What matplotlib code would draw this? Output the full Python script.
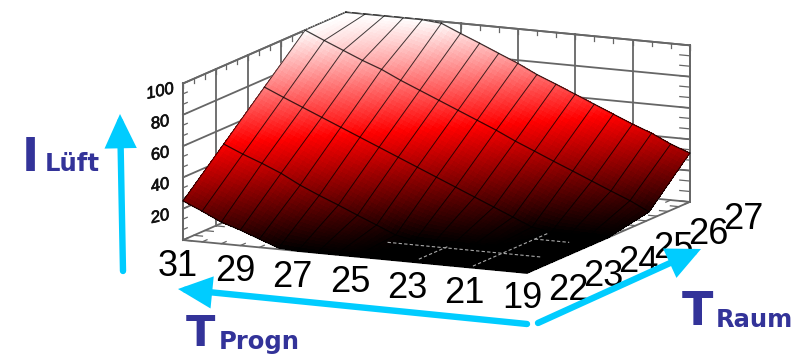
import matplotlib
matplotlib.use('Agg')
import matplotlib.pyplot as plt
import matplotlib.patheffects as pe
import numpy as np
from matplotlib.colors import LinearSegmentedColormap
from matplotlib.patches import FancyArrowPatch
from mpl_toolkits.mplot3d import proj3d

W, H = 807, 357

# axes values
t_progn = np.linspace(31, 19, 19)
t_raum = [22, 23.25, 24.5, 25.75, 27]
progn_ticks = [31, 29, 27, 25, 23, 21, 19]
raum_ticks = [22, 23, 24, 25, 26, 27]
z_ticks = [20, 40, 60, 80, 100]

# I_Lueft per T_Raum row (31 -> 19)
z_22 = [25, 19.6, 13.8, 9.9, 5.3, 0.8, 0, 0, 0, 0, 0, 0, 0, 0, 0, 0, 0, 0, 0]
z_2325 = [50, 44.7, 40, 34.8, 28.4, 23, 18, 12.7, 7.6, 2.4, 0, 0, 0, 0, 0, 0, 0, 0, 0]
z_245 = [75, 69.6, 64.4, 59.2, 54, 48.8, 43.6, 38.4, 33.2, 28, 22.8, 17.6, 12.4, 7.2, 2, 0, 0, 0, 0]
z_2575 = [100, 94.6, 89.4, 84.2, 79.6, 73.8, 68.6, 63.4, 58.2, 53, 47.8, 42, 36.8, 31.5, 26.4, 21.2, 16, 11, 5]
z_27 = [100, 100, 100, 100, 100, 98.9, 93.6, 88.5, 83.2, 78, 72, 67, 61.8, 56.6, 51.4, 46.2, 41.6, 35.8, 31.2]
z_grid = np.array([z_22, z_2325, z_245, z_2575, z_27])

def refine(a, n):
    # finer mesh, only so the colour gradient runs smooth inside each cell
    old = np.arange(len(a))
    new = np.linspace(0, len(a) - 1, (len(a) - 1) * n + 1)
    return np.interp(new, old, a)

def refine_z(nx, ny):
    rows = np.array([refine(r, nx) for r in z_grid])
    return np.array([refine(c, ny) for c in rows.T]).T

fig = plt.figure(figsize=(W / 100, H / 100), dpi=100)
ax = fig.add_subplot(projection='3d', computed_zorder=False)
ax.set_proj_type('ortho')
ax.view_init(elev=11.8, azim=-64.9)
ax.set_box_aspect((380, 384, 160))
ax.set_xlim(31, 19, view_margin=0)
ax.set_ylim(22, 27, view_margin=0)
ax.set_zlim(0, 100, view_margin=0)
ax.set_axis_off()

wall = dict(color='#666666', lw=1.3, zorder=1)
tick = dict(color='#666666', lw=0.9, zorder=1)

# walls and floor edges
ax.plot([31, 31, 19], [22, 27, 27], [100, 100, 100], **wall)
ax.plot([31, 31, 19], [22, 27, 27], [0, 0, 0], **wall)
ax.plot([31, 19, 19], [22, 22, 27], [0, 0, 0], **wall)
ax.plot([31, 31], [22, 22], [0, 100], **wall)
ax.plot([19, 19], [27, 27], [0, 100], **wall)
for x in progn_ticks:
    ax.plot([x, x], [27, 27], [0, 100], **wall)
for y in raum_ticks:
    ax.plot([31, 31], [y, y], [0, 100], **wall)
for z in z_ticks:
    ax.plot([31, 31, 19], [22, 27, 27], [z, z, z], **wall)

# minor ticks
for z in np.arange(0, 100.1, 20 / 3):
    ax.plot([19.35, 19], [27, 27], [z, z], **tick)
    ax.plot([31, 31], [22.13, 22], [z, z], **tick)
for x in np.arange(19, 31.1, 2 / 3):
    ax.plot([x, x], [27, 27], [97, 100], **tick)
    ax.plot([x, x], [22, 22.15], [0, 0], **tick)
    ax.plot([x, x], [27, 26.85], [0, 0], **tick)
for y in np.arange(22, 27.1, 1 / 3):
    ax.plot([31, 31], [y, y], [97, 100], **tick)
    ax.plot([30.7, 31], [y, y], [0, 0], **tick)
    ax.plot([19.3, 19], [y, y], [0, 0], **tick)

# surface
cm = LinearSegmentedColormap.from_list('hot_red', ['#000000', '#ff0000', '#ffffff'])
X, Y = np.meshgrid(refine(t_progn, 4), refine(t_raum, 16))
Z = refine_z(4, 16)
colors = cm((Z[:-1, :-1] + Z[1:, 1:]) / 200.0)
ax.plot_surface(X, Y, Z, rstride=1, cstride=1, facecolors=colors,
                linewidth=0, antialiased=False, shade=False, zorder=2)

# mesh lines
for i, y in enumerate(t_raum):
    ax.plot(t_progn, [y] * len(t_progn), z_grid[i], color='#000000', lw=0.9, alpha=0.75, zorder=3)
for k, x in enumerate(t_progn):
    ax.plot([x] * len(t_raum), t_raum, z_grid[:, k], color='#000000', lw=0.7, alpha=0.75, zorder=3)

# floor grid showing through the black part
floor = dict(color='#a8a8a8', lw=0.8, ls=(0, (3, 2)), zorder=4)
ax.plot([25, 19.6], [23, 23], [0, 0], **floor)
ax.plot([21, 19.8], [24, 24], [0, 0], **floor)
ax.plot([23, 23], [22.2, 23.1], [0, 0], **floor)
ax.plot([21, 21], [22.1, 24.4], [0, 0], **floor)

# put the box where it belongs (pixels, y from top)
def to_px(x, y, z):
    xs, ys, _ = proj3d.proj_transform(x, y, z, ax.get_proj())
    return ax.transData.transform((xs, ys))

L = 357.0
ax.set_position([0, 0, L / W, L / H])
fig.canvas.draw()
a = to_px(31, 22, 0)
b = to_px(19, 22, 0)
L = L * 344.0 / abs(b[0] - a[0])
ax.set_position([0, 0, L / W, L / H])
fig.canvas.draw()
b = to_px(19, 22, 0)
ax.set_position([(527 - b[0]) / W, ((H - 273) - b[1]) / H, L / W, L / H])
fig.canvas.draw()

# tick labels, anchored on their axis position and moved off by pixels
def label(x, y, z, dx, dy, s, **kw):
    p = to_px(x, y, z)
    fig.text((p[0] + dx) / W, (p[1] - dy) / H, s, family='Liberation Sans', ha='center', va='center', **kw)

for z in z_ticks:
    label(31, 22, z, -23, 8, str(z), fontsize=12, style='italic', rotation=12, color='#111111',
          path_effects=[pe.withStroke(linewidth=0.5, foreground='#111111')])
for x in progn_ticks:
    label(x, 22, 0, -5, 26, str(x), fontsize=26)
for i, y in enumerate(raum_ticks):
    label(19, y, 0, 41 + 2.4 * i, 18, str(y), fontsize=26)

# arrows and axis names sit on the figure
def fxy(x, y):
    return (x / W, 1 - y / H)

blue = '#00ccff'
for start, end in [((123, 271), (120, 114)), ((527, 324), (178, 289)), ((538, 323), (701, 249))]:
    fig.add_artist(FancyArrowPatch(fxy(*start), fxy(*end), transform=fig.transFigure,
                                   arrowstyle='-|>,head_length=17,head_width=8', mutation_scale=1,
                                   shrinkA=0, shrinkB=0, lw=4.6, color=blue, joinstyle='miter', zorder=5))

navy = '#333399'
names = [(22, 171, 'I', 33), (45, 171, 'Lüft', 17.5), (186, 346, 'T', 31), (219, 349, 'Progn', 17.5),
         (682, 325, 'T', 33), (716, 327, 'Raum', 17.5)]
for x, y, s, size in names:
    fig.text(x / W, 1 - y / H, s, color=navy, fontsize=size, fontweight='bold',
             family='DejaVu Sans', ha='left', va='baseline')

fig.savefig('out.png', dpi=100)
